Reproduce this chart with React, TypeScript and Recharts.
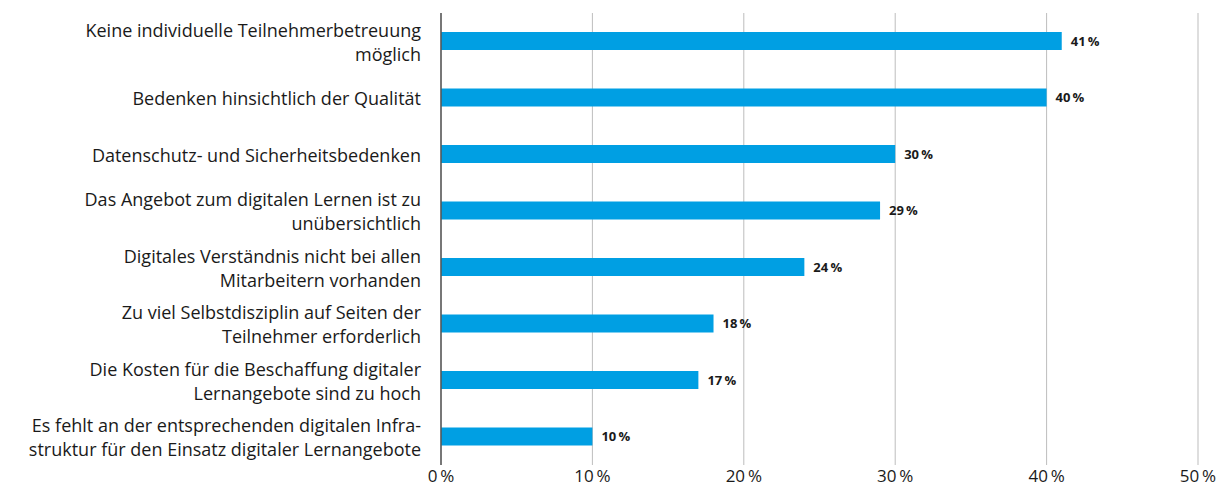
import React from "react";
import { BarChart, Bar, XAxis, YAxis, CartesianGrid, LabelList } from "recharts";

const categories: string[][] = [
    ["Keine individuelle Teilnehmerbetreuung", "möglich"],
    ["Bedenken hinsichtlich der Qualität"],
    ["Datenschutz- und Sicherheitsbedenken"],
    ["Das Angebot zum digitalen Lernen ist zu", "unübersichtlich"],
    ["Digitales Verständnis nicht bei allen", "Mitarbeitern vorhanden"],
    ["Zu viel Selbstdisziplin auf Seiten der", "Teilnehmer erforderlich"],
    ["Die Kosten für die Beschaffung digitaler", "Lernangebote sind zu hoch"],
    ["Es fehlt an der entsprechenden digitalen Infra-", "struktur für den Einsatz digitaler Lernangebote"],
];
const values = [41, 40, 30, 29, 24, 18, 17, 10];
const xTicks = [0, 10, 20, 30, 40, 50];

const FONT = "'Open Sans', sans-serif";
const BLUE = "#009fe3";

const data = categories.map((lines, i) => ({ name: lines.join("\n"), value: values[i] }));

const CategoryTick = (props: any) => {
    const { x, y, payload } = props;
    const lines: string[] = String(payload.value).split("\n");
    const lh = 24;
    const start = -((lines.length - 1) * lh) / 2;
    return (
        <text x={x - 12} y={y} textAnchor="end" fontFamily={FONT} fontSize={18} fill="#1a1a1a">
            {lines.map((l, i) => (
                <tspan key={i} x={x - 12} y={y + start + i * lh + 1} dy="0.35em">
                    {l}
                </tspan>
            ))}
        </text>
    );
};

const PercentTick = (props: any) => {
    const { x, y, payload } = props;
    return (
        <text x={x} y={y + 9} textAnchor="middle" fontFamily={FONT} fontSize={17} fill="#1a1a1a">
            {`${payload.value}\u2009%`}
        </text>
    );
};

const App = () => {
    return (
        <div style={{ position: "absolute", left: 0, top: 0 }}>
            <BarChart
                width={1219}
                height={486}
                data={data}
                layout="vertical"
                margin={{ top: 13, right: 21, left: 0, bottom: 0 }}
                barCategoryGap={0}
            >
                <CartesianGrid horizontal={false} stroke="#bdbdbd" strokeWidth={1} />
                <XAxis
                    type="number"
                    domain={[0, 50]}
                    ticks={xTicks}
                    axisLine={false}
                    tickLine={false}
                    tick={<PercentTick />}
                    height={21}
                    interval={0}
                />
                <YAxis
                    type="category"
                    dataKey="name"
                    width={441}
                    axisLine={{ stroke: "#555", strokeWidth: 1.5 }}
                    tickLine={false}
                    tick={<CategoryTick />}
                    interval={0}
                />
                <Bar dataKey="value" fill={BLUE} barSize={18} isAnimationActive={false}>
                    <LabelList
                        dataKey="value"
                        position="right"
                        offset={9}
                        formatter={(v: any) => `${v}\u2009%`}
                        style={{ fontFamily: FONT, fontSize: 13, fontWeight: 700, fill: "#1a1a1a" }}
                    />
                </Bar>
            </BarChart>
        </div>
    );
};

export default App;
